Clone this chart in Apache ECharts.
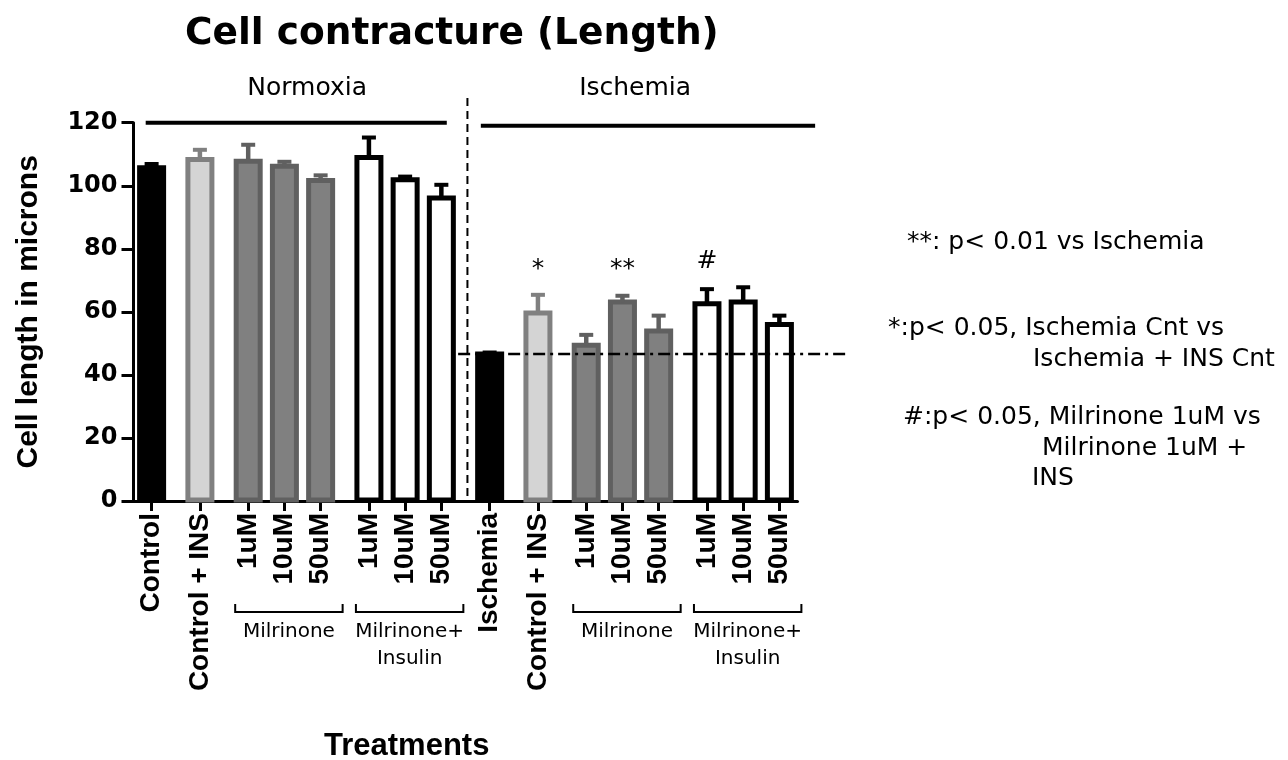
<!DOCTYPE html>
<html><head><meta charset="utf-8">
<script src="https://cdn.jsdelivr.net/npm/echarts@6/dist/echarts.min.js"></script>
<style>html,body{margin:0;padding:0;background:#fff}#c{width:1288px;height:760px}</style>
</head><body><div id="c"></div>
<script>
// ---------------- data ----------------
const categories = ['Control','Control + INS','1uM','10uM','50uM','1uM','10uM','50uM',
                    'Ischemia','Control + INS','1uM','10uM','50uM','1uM','10uM','50uM'];
const groupOf   = [0,1,2,2,2,3,3,3,4,5,6,6,6,7,7,7];
const means     = [105.7,108.3,107.8,106.2,101.7,109.0,101.9,96.1,46.6,59.6,49.4,63.1,53.9,62.6,63.1,56.0];
const sem       = [1.2,3.1,5.2,1.4,1.6,6.3,1.0,4.2,0.5,5.8,3.3,2.0,4.9,4.6,4.7,2.8];
const sigMarks  = ['','','','','','','','','','*','','**','','#','',''];
const sections  = ['Normoxia','Ischemia'];
const bracketGroups = [2,3,6,7];
const bracketLabels = ['Milrinone','Milrinone+\nInsulin','Milrinone','Milrinone+\nInsulin'];
const yTicks = [0,20,40,60,80,100,120];
const notes = ['**: p< 0.01 vs Ischemia','*:p< 0.05, Ischemia Cnt vs','Ischemia + INS Cnt',
               '#:p< 0.05, Milrinone 1uM vs','Milrinone 1uM +','INS'];
const titleText = 'Cell contracture (Length)';
const yName = 'Cell length in microns';
const xName = 'Treatments';

// ---------------- styles / layout ----------------
const groupKind = ['control','controlIns','mil','milIns','control','controlIns','mil','milIns'];
const kindStyle = {
  control:    {fill:'#000000', stroke:'#000000'},
  controlIns: {fill:'#d4d4d4', stroke:'#808080'},
  mil:        {fill:'#808080', stroke:'#606060'},
  milIns:     {fill:'#ffffff', stroke:'#000000'}
};
const notePos = [[907,242],[888,328],[1033,359],[903,417],[1042,448],[1032,478]];
const BAR_W = 24, BAR_BORDER = 5;

// slot positions: step 3 inside a group, 4 between groups
const slotOf = [];
{ let s = 1; categories.forEach((c,i)=>{ if(i>0) s += (groupOf[i]===groupOf[i-1]?3:4); slotOf.push(s); }); }
const NSLOT = slotOf[slotOf.length-1] + 2;
const slotNames = Array.from({length:NSLOT}, (_,i)=>'s'+i);
const labelAtSlot = {}; slotOf.forEach((s,i)=>{ labelAtSlot[s] = categories[i]; });
const isBarSlot = idx => labelAtSlot[idx] !== undefined;

const barData = categories.map((c,i)=>[slotOf[i], means[i], sem[i], i]);
const sigData = categories.map((c,i)=>[slotOf[i], 0, i]).filter(d=>sigMarks[d[2]]);

const chart = echarts.init(document.getElementById('c'));
const SANS = '"DejaVu Sans"';

chart.setOption({
  animation: false,
  backgroundColor: '#ffffff',
  title: {
    text: titleText, left: 185, top: 12, padding: 0,
    textStyle: {fontFamily: 'DejaVu Sans', fontWeight: 'bold', fontSize: 37.5, lineHeight: 44, color: '#000'}
  },
  grid: {left: 133.5, top: 122.7, width: 664, height: 378.3, containLabel: false},
  xAxis: {
    type: 'category', data: slotNames, boundaryGap: true,
    axisLine: {show: true, lineStyle: {color: '#000', width: 3}},
    axisTick: {show: true, alignWithLabel: true, interval: (idx)=>isBarSlot(idx), length: 10,
               lineStyle: {color: '#000', width: 3}},
    axisLabel: {show: true, interval: (idx)=>isBarSlot(idx), rotate: 90, margin: 12,
                formatter: (v, idx)=>labelAtSlot[idx] || '',
                fontFamily: 'Liberation Sans', fontWeight: 'bold', fontSize: 28, color: '#000'},
    splitLine: {show: false}
  },
  yAxis: {
    type: 'value', min: yTicks[0], max: yTicks[yTicks.length-1], interval: yTicks[1]-yTicks[0],
    name: yName, nameLocation: 'middle', nameGap: 90,
    nameTextStyle: {fontFamily: 'Liberation Sans', fontWeight: 'bold', fontSize: 30, color: '#000'},
    axisLine: {show: true, lineStyle: {color: '#000', width: 3}},
    axisTick: {show: true, inside: false, length: 12, lineStyle: {color: '#000', width: 3}},
    axisLabel: {margin: 16, fontFamily: 'DejaVu Sans', fontWeight: 'bold', fontSize: 24, color: '#000'},
    splitLine: {show: false}
  },
  graphic: [
    {type: 'text', x: 406.7, y: 746, style: {text: xName, font: 'bold 31px "Liberation Sans"', fill: '#000', align: 'center', verticalAlign: 'middle'}}
  ].concat(notes.map((t,i)=>({
    type: 'text', x: notePos[i][0], y: notePos[i][1],
    style: {text: t, font: '25px ' + SANS, fill: '#000', align: 'left', verticalAlign: 'middle'}
  }))),
  series: [
    {
      // bars with upper error bars
      type: 'custom', data: barData, z: 2, silent: true,
      renderItem: (params, api) => {
        const s = api.value(0), m = api.value(1), e = api.value(2), i = api.value(3);
        const st = kindStyle[groupKind[groupOf[i]]];
        const base = api.coord([s, m]);
        const zero = api.coord([s, 0]);
        const top = api.coord([s, m + e]);
        return {type: 'group', children: [
          {type: 'rect', shape: {x: base[0] - BAR_W/2, y: base[1], width: BAR_W, height: zero[1] - base[1] - 1},
           style: {fill: st.fill, stroke: st.stroke, lineWidth: BAR_BORDER}},
          {type: 'line', shape: {x1: base[0], y1: base[1], x2: top[0], y2: top[1]}, style: {stroke: st.stroke, lineWidth: 4.5}},
          {type: 'line', shape: {x1: top[0]-7, y1: top[1], x2: top[0]+7, y2: top[1]}, style: {stroke: st.stroke, lineWidth: 4}}
        ]};
      }
    },
    {
      type: 'custom', data: sigData, z: 4, silent: true, clip: false,
      renderItem: (params, api) => {
        const s = api.value(0), i = api.value(2);
        const mark = sigMarks[i];
        const p = api.coord([s, 76]);
        const star = mark.indexOf('*') >= 0;
        return {type: 'text', style: {text: mark, x: p[0], y: p[1] + (star ? 8 : 0),
                font: (star ? '25px ' : '25px ') + SANS, fill: '#000',
                align: 'center', verticalAlign: 'middle'}};
      }
    },
    {
      type: 'custom', data: [[0, 0]], z: 5, silent: true, clip: false,
      renderItem: (params, api) => {
        const origin = api.coord([0, 0]);
        const w = api.size([1, 0])[0];
        const xs = s => origin[0] + s * w;
        const yv = v => api.coord([0, v])[1];
        const bx = i => api.coord([slotOf[i], 0])[0];
        const y0 = origin[1];
        const ln = (x1,y1,x2,y2,st) => ({type:'line', shape:{x1,y1,x2,y2}, style:Object.assign({stroke:'#000'}, st)});
        const children = [];
        // section header lines
        children.push(ln(xs(0.51), yv(120), xs(25.45), yv(120), {lineWidth: 4}));
        children.push(ln(xs(28.27), yv(119.0), xs(55.96), yv(119.0), {lineWidth: 4}));
        // section labels
        [[13.88, sections[0]], [41.05, sections[1]]].forEach(([s, t]) => {
          children.push({type:'text', style:{text: t, x: xs(s), y: yv(130.7), font: '25px ' + SANS, fill:'#000', align:'center', verticalAlign:'middle'}});
        });
        // vertical divider
        children.push(ln(xs(27.16), yv(127.8), xs(27.16), y0, {lineWidth: 2, lineDash: [8, 5]}));
        // reference line at ischemia mean
        const yr = yv(means[categories.indexOf('Ischemia')]);
        children.push(ln(xs(26.39), yr, xs(58.45), yr, {lineWidth: 2.5, lineDash: [12, 5, 3, 5]}));
        // brackets under the x labels
        bracketGroups.forEach((g, k) => {
          const idx = groupOf.map((gg, i) => gg === g ? i : -1).filter(i => i >= 0);
          const x1 = bx(idx[0]) - 13, x2 = bx(idx[idx.length-1]) + 22, y = y0 + 111;
          children.push({type:'polyline', shape:{points:[[x1,y-8],[x1,y],[x2,y],[x2,y-8]]}, style:{stroke:'#000', lineWidth:2, fill:null}});
          children.push({type:'text', style:{text: bracketLabels[k], x:(x1+x2)/2, y: y + 6, font: '20px ' + SANS,
                         lineHeight: 27, fill:'#000', align:'center', verticalAlign:'top'}});
        });
        return {type: 'group', children};
      }
    }
  ]
});
</script>
</body></html>
